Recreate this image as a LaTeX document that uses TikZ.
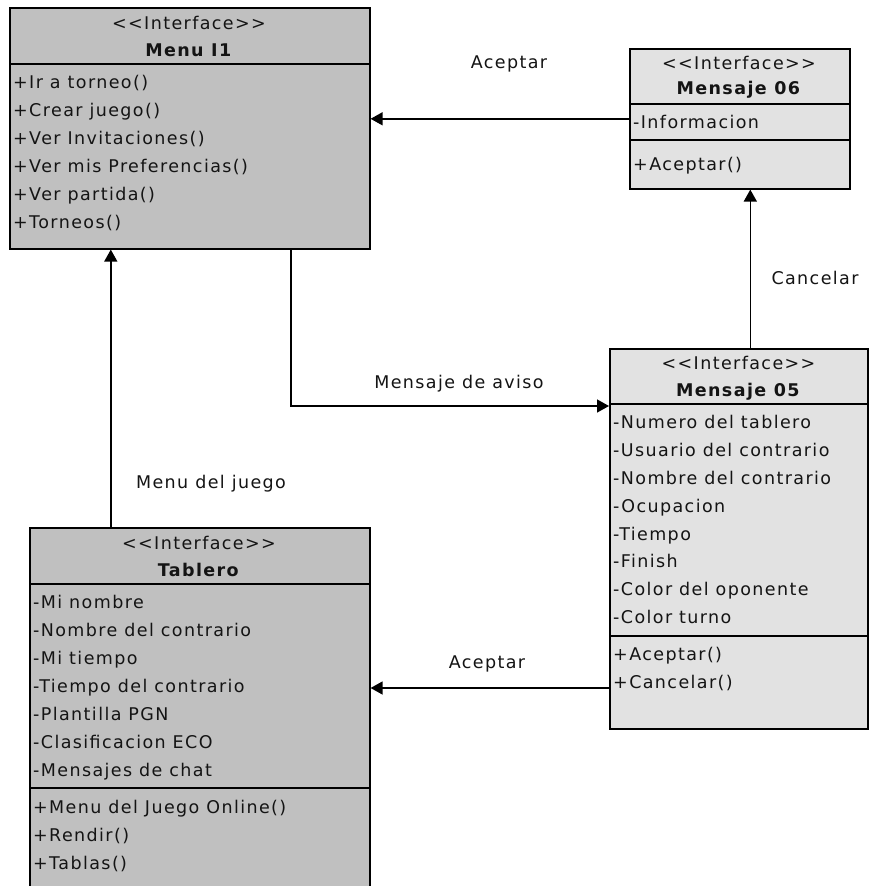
\documentclass[tikz,border=0pt]{standalone}
\usepackage{fontspec}
\setmainfont{DejaVu Sans}[LetterSpace=8]
\usetikzlibrary{arrows.meta}
\definecolor{darkfill}{HTML}{C0C0C0}
\definecolor{lightfill}{HTML}{E2E2E2}
\definecolor{ink}{HTML}{141414}
\begin{document}
\begin{tikzpicture}[x=1pt,y=-1pt,
  font=\fontsize{17.5}{20}\selectfont,
  box/.style={draw=black, line width=1.6pt, inner sep=0pt, anchor=north west},
  row/.style={anchor=base west, inner sep=0pt, text=ink},
  head/.style={anchor=base, inner sep=0pt, text=ink},
  lbl/.style={anchor=base, inner sep=0pt, text=ink},
  sep/.style={draw=black, line width=1.6pt},
  arr/.style={draw=black, line width=1.5pt, -{Triangle[length=12pt,width=13pt]}}]
\useasboundingbox (0,0) rectangle (869,886);
\clip (0,0) rectangle (869,886);
\fill[white] (0,0) rectangle (869,886);

% ---------- Menu I1 ----------
\node[box, fill=darkfill, minimum width=360pt, minimum height=241pt] (menu) at (9,7) {};
\draw[sep] (9,64) -- (369,64);
\node[head] (menuS) at (189,29.5) {<{}<Interface>{}>};
\node[head] (menuN) at (189,56.5) {\textbf{Menu I1}};
\node[row] (menuO1) at (13,88.5) {+Ir a torneo()};
\node[row] (menuO2) at (13,116.5) {+Crear juego()};
\node[row] (menuO3) at (13,144.5) {+Ver Invitaciones()};
\node[row] (menuO4) at (13,172.5) {+Ver mis Preferencias()};
\node[row] (menuO5) at (13,200.5) {+Ver partida()};
\node[row] (menuO6) at (13,228.5) {+Torneos()};

% ---------- Mensaje 06 ----------
\node[box, fill=lightfill, minimum width=220pt, minimum height=140pt] (m06) at (629,48) {};
\draw[sep] (629,104) -- (849,104);
\draw[sep] (629,140) -- (849,140);
\node[head] (m06S) at (739,69.5) {<{}<Interface>{}>};
\node[head] (m06N) at (739,94.5) {\textbf{Mensaje 06}};
\node[row] (m06A1) at (633,128.5) {-Informacion};
\node[row] (m06O1) at (633,170.5) {+Aceptar()};

% ---------- Mensaje 05 ----------
\node[box, fill=lightfill, minimum width=258pt, minimum height=380pt] (m05) at (609,348) {};
\draw[sep] (609,404) -- (867,404);
\draw[sep] (609,636) -- (867,636);
\node[head] (m05S) at (738.5,369.5) {<{}<Interface>{}>};
\node[head] (m05N) at (738.5,396.5) {\textbf{Mensaje 05}};
\node[row] (m05A1) at (613,428.5) {-Numero del tablero};
\node[row] (m05A2) at (613,456.5) {-Usuario del contrario};
\node[row] (m05A3) at (613,484.5) {-Nombre del contrario};
\node[row] (m05A4) at (613,512.5) {-Ocupacion};
\node[row] (m05A5) at (613,540.5) {-Tiempo};
\node[row] (m05A6) at (613,567.5) {-Finish};
\node[row] (m05A7) at (613,595.5) {-Color del oponente};
\node[row] (m05A8) at (613,623.5) {-Color turno};
\node[row] (m05O1) at (613,660.5) {+Aceptar()};
\node[row] (m05O2) at (613,688.5) {+Cancelar()};

% ---------- Tablero ----------
\node[box, fill=darkfill, minimum width=340pt, minimum height=380pt] (tab) at (29,527) {};
\draw[sep] (29,584) -- (369,584);
\draw[sep] (29,788) -- (369,788);
\node[head] (tabS) at (199,549.5) {<{}<Interface>{}>};
\node[head] (tabN) at (199,576.5) {\textbf{Tablero}};
\node[row] (tabA1) at (33,608.5) {-Mi nombre};
\node[row] (tabA2) at (33,636.5) {-Nombre del contrario};
\node[row] (tabA3) at (33,664.5) {-Mi tiempo};
\node[row] (tabA4) at (33,692.5) {-Tiempo del contrario};
\node[row] (tabA5) at (33,720.5) {-Plantilla PGN};
\node[row] (tabA6) at (33,748.5) {-Clasificacion ECO};
\node[row] (tabA7) at (33,776.5) {-Mensajes de chat};
\node[row] (tabO1) at (33,813.5) {+Menu del Juego Online()};
\node[row] (tabO2) at (33,841.5) {+Rendir()};
\node[row] (tabO3) at (33,869.5) {+Tablas()};

% ---------- connectors ----------
\draw[arr] (m06.west) -- (m06.west -| menu.east);
\draw[arr] ([xshift=11.5pt]m05.north) -- ([xshift=11.5pt]m05.north |- m06.south);
\draw[arr] ([xshift=-89pt]tab.north) -- ([xshift=-89pt]tab.north |- menu.south);
\draw[arr] ([xshift=101pt]menu.south) |- ([yshift=-58pt]m05.north west);
\draw[arr] ([yshift=-340pt]m05.north west) -- ([yshift=-340pt]m05.north west -| tab.east);

% ---------- labels ----------
\node[lbl] (lAcep1) at (509,68.5) {Aceptar};
\node[lbl] (lCanc) at (815,284.5) {Cancelar};
\node[lbl] (lMenu) at (211,488.5) {Menu del juego};
\node[lbl] (lAviso) at (459,388.5) {Mensaje de aviso};
\node[lbl] (lAcep2) at (487,668.5) {Aceptar};
\end{tikzpicture}
\end{document}
